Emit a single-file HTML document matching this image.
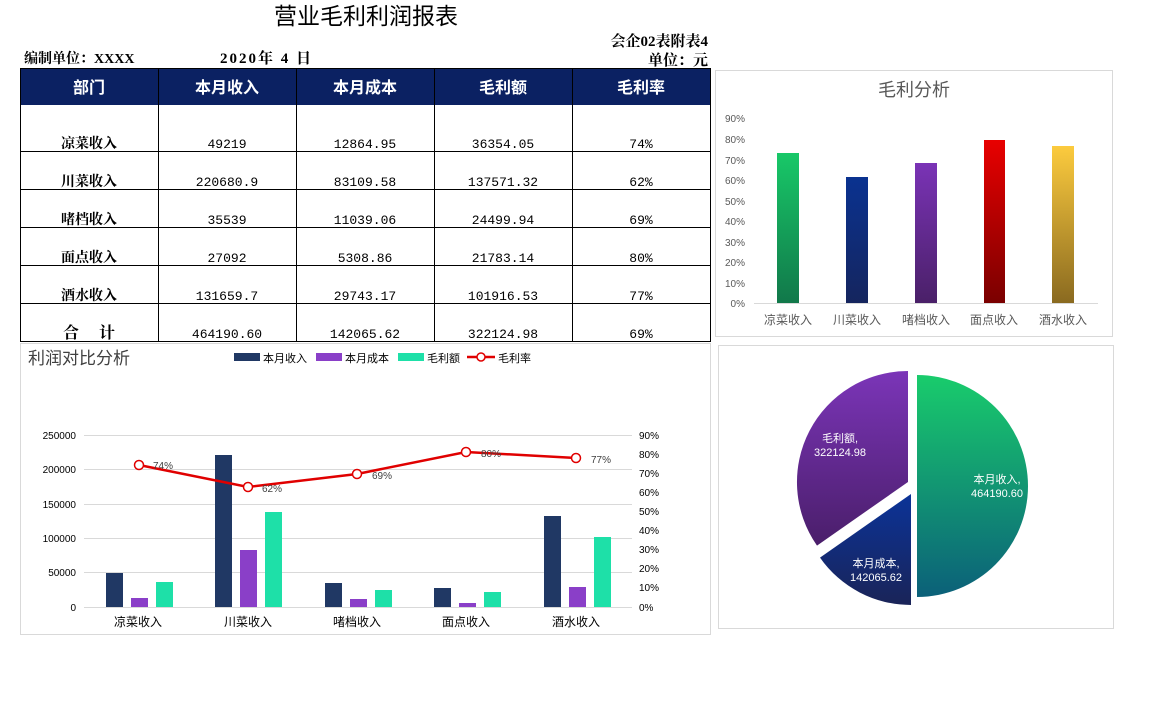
<!DOCTYPE html>
<html><head><meta charset="utf-8">
<style>
html,body{margin:0;padding:0;background:#fff;}
svg{display:block;}
.cn{font-family:"Liberation Sans","Noto Sans CJK SC",sans-serif;}
.sr{font-family:"Liberation Serif","Noto Serif CJK SC",serif;font-weight:bold;}
.mn{font-family:"Liberation Mono","Noto Sans CJK SC",monospace;}
</style></head><body>
<svg width="1149" height="728" viewBox="0 0 1149 728" xmlns="http://www.w3.org/2000/svg">
<defs>
<linearGradient id="gG" x1="0" y1="0" x2="0" y2="1"><stop offset="0" stop-color="#18c868"/><stop offset="1" stop-color="#11784a"/></linearGradient>
<linearGradient id="gB" x1="0" y1="0" x2="0" y2="1"><stop offset="0" stop-color="#0a3290"/><stop offset="1" stop-color="#15255e"/></linearGradient>
<linearGradient id="gP" x1="0" y1="0" x2="0" y2="1"><stop offset="0" stop-color="#7a33b6"/><stop offset="1" stop-color="#4a2068"/></linearGradient>
<linearGradient id="gR" x1="0" y1="0" x2="0" y2="1"><stop offset="0" stop-color="#e80000"/><stop offset="1" stop-color="#7a0000"/></linearGradient>
<linearGradient id="gY" x1="0" y1="0" x2="0" y2="1"><stop offset="0" stop-color="#fccb3e"/><stop offset="1" stop-color="#8a6a20"/></linearGradient>
<linearGradient id="pI" x1="0" y1="0" x2="0" y2="1"><stop offset="0" stop-color="#19cc6c"/><stop offset="1" stop-color="#0b6079"/></linearGradient>
<linearGradient id="pP" x1="0" y1="0" x2="0" y2="1"><stop offset="0" stop-color="#7b35b8"/><stop offset="1" stop-color="#4a1e6a"/></linearGradient>
<linearGradient id="pN" x1="0" y1="0" x2="0" y2="1"><stop offset="0" stop-color="#0b3398"/><stop offset="1" stop-color="#1a2458"/></linearGradient>
</defs>

<text x="366" y="24" font-size="23" text-anchor="middle" class="cn" fill="#000">营业毛利利润报表</text>
<text x="24" y="63" font-size="14" class="sr">编制单位：XXXX</text>
<text x="220" y="63" font-size="15" class="sr" letter-spacing="2">2020年 4 日</text>
<text x="708" y="46" font-size="15" class="sr" text-anchor="end">会企02表附表4</text>
<text x="708" y="65" font-size="15" class="sr" text-anchor="end">单位：元</text>

<rect x="20" y="68" width="690" height="37" fill="#0b2162"/>
<g class="cn" font-size="16" fill="#fff" text-anchor="middle" font-weight="bold">
<text x="89" y="93">部门</text><text x="227" y="93">本月收入</text><text x="365" y="93">本月成本</text><text x="503" y="93">毛利额</text><text x="641" y="93">毛利率</text>
</g>
<g stroke="#000" stroke-width="1" fill="none">
<rect x="20.5" y="68.5" width="690" height="273"/>
<line x1="158.5" y1="68" x2="158.5" y2="342"/><line x1="296.5" y1="68" x2="296.5" y2="342"/><line x1="434.5" y1="68" x2="434.5" y2="342"/><line x1="572.5" y1="68" x2="572.5" y2="342"/>
<line x1="20" y1="151.5" x2="711" y2="151.5"/><line x1="20" y1="189.5" x2="711" y2="189.5"/><line x1="20" y1="227.5" x2="711" y2="227.5"/><line x1="20" y1="265.5" x2="711" y2="265.5"/><line x1="20" y1="303.5" x2="711" y2="303.5"/>
</g>
<g font-size="14" class="sr" text-anchor="middle">
<text x="89" y="148">凉菜收入</text><text x="89" y="186">川菜收入</text><text x="89" y="224">啫档收入</text><text x="89" y="262">面点收入</text><text x="89" y="300">酒水收入</text><text x="89" y="338" font-size="16">合　 计</text>
</g>
<g font-size="13" class="mn" text-anchor="middle">
<text x="227" y="148">49219</text><text x="365" y="148">12864.95</text><text x="503" y="148">36354.05</text><text x="641" y="148">74%</text>
<text x="227" y="186">220680.9</text><text x="365" y="186">83109.58</text><text x="503" y="186">137571.32</text><text x="641" y="186">62%</text>
<text x="227" y="224">35539</text><text x="365" y="224">11039.06</text><text x="503" y="224">24499.94</text><text x="641" y="224">69%</text>
<text x="227" y="262">27092</text><text x="365" y="262">5308.86</text><text x="503" y="262">21783.14</text><text x="641" y="262">80%</text>
<text x="227" y="300">131659.7</text><text x="365" y="300">29743.17</text><text x="503" y="300">101916.53</text><text x="641" y="300">77%</text>
<text x="227" y="338">464190.60</text><text x="365" y="338">142065.62</text><text x="503" y="338">322124.98</text><text x="641" y="338">69%</text>
</g>

<rect x="715.5" y="70.5" width="397" height="266" fill="#fff" stroke="#d9d9d9"/>
<text x="914" y="96" font-size="18" class="cn" fill="#595959" text-anchor="middle">毛利分析</text>
<g class="cn" font-size="10" fill="#595959" text-anchor="end">
<text x="745" y="307">0%</text><text x="745" y="287">10%</text><text x="745" y="266">20%</text><text x="745" y="246">30%</text><text x="745" y="225">40%</text><text x="745" y="205">50%</text><text x="745" y="184">60%</text><text x="745" y="164">70%</text><text x="745" y="143">80%</text><text x="745" y="122">90%</text>
</g>
<line x1="754" y1="303.5" x2="1098" y2="303.5" stroke="#d9d9d9"/>
<rect x="777" y="153" width="22" height="150" fill="url(#gG)"/>
<rect x="846" y="177" width="22" height="126" fill="url(#gB)"/>
<rect x="915" y="163" width="22" height="140" fill="url(#gP)"/>
<rect x="984" y="140" width="21" height="163" fill="url(#gR)"/>
<rect x="1052" y="146" width="22" height="157" fill="url(#gY)"/>
<g class="cn" font-size="12" fill="#595959" text-anchor="middle">
<text x="788" y="324">凉菜收入</text><text x="857" y="324">川菜收入</text><text x="926" y="324">啫档收入</text><text x="994" y="324">面点收入</text><text x="1063" y="324">酒水收入</text>
</g>

<rect x="20.5" y="343.5" width="690" height="291" fill="#fff" stroke="#d9d9d9"/>
<text x="28" y="364" font-size="17" class="cn" fill="#404040">利润对比分析</text>
<g class="cn" font-size="11" fill="#000">
<rect x="234" y="353" width="26" height="8" fill="#203864"/><text x="263" y="362">本月收入</text>
<rect x="316" y="353" width="26" height="8" fill="#8a3fc8"/><text x="345" y="362">本月成本</text>
<rect x="398" y="353" width="26" height="8" fill="#1ee0a8"/><text x="427" y="362">毛利额</text>
<line x1="467" y1="357" x2="495" y2="357" stroke="#e00000" stroke-width="2.5"/><circle cx="481" cy="357" r="4" fill="#fff" stroke="#e00000" stroke-width="1.5"/><text x="498" y="362">毛利率</text>
</g>
<g stroke="#d9d9d9" stroke-width="1">
<line x1="84" y1="435.5" x2="632" y2="435.5"/><line x1="84" y1="469.5" x2="632" y2="469.5"/><line x1="84" y1="504.5" x2="632" y2="504.5"/><line x1="84" y1="538.5" x2="632" y2="538.5"/><line x1="84" y1="572.5" x2="632" y2="572.5"/><line x1="84" y1="607.5" x2="632" y2="607.5"/>
</g>
<g class="cn" font-size="10" fill="#000" text-anchor="end">
<text x="76" y="439">250000</text><text x="76" y="473">200000</text><text x="76" y="508">150000</text><text x="76" y="542">100000</text><text x="76" y="576">50000</text><text x="76" y="611">0</text>
</g>
<g class="cn" font-size="10" fill="#000">
<text x="639" y="439">90%</text><text x="639" y="458">80%</text><text x="639" y="477">70%</text><text x="639" y="496">60%</text><text x="639" y="515">50%</text><text x="639" y="534">40%</text><text x="639" y="553">30%</text><text x="639" y="572">20%</text><text x="639" y="591">10%</text><text x="639" y="611">0%</text>
</g>
<g>
<rect x="106" y="573" width="17" height="34" fill="#203864"/><rect x="131" y="598" width="17" height="9" fill="#8a3fc8"/><rect x="156" y="582" width="17" height="25" fill="#1ee0a8"/>
<rect x="215" y="455" width="17" height="152" fill="#203864"/><rect x="240" y="550" width="17" height="57" fill="#8a3fc8"/><rect x="265" y="512" width="17" height="95" fill="#1ee0a8"/>
<rect x="325" y="583" width="17" height="24" fill="#203864"/><rect x="350" y="599" width="17" height="8" fill="#8a3fc8"/><rect x="375" y="590" width="17" height="17" fill="#1ee0a8"/>
<rect x="434" y="588" width="17" height="19" fill="#203864"/><rect x="459" y="603" width="17" height="4" fill="#8a3fc8"/><rect x="484" y="592" width="17" height="15" fill="#1ee0a8"/>
<rect x="544" y="516" width="17" height="91" fill="#203864"/><rect x="569" y="587" width="17" height="20" fill="#8a3fc8"/><rect x="594" y="537" width="17" height="70" fill="#1ee0a8"/>
</g>
<polyline points="139,465 248,487 357,474 466,452 576,458" fill="none" stroke="#e00000" stroke-width="2.5"/>
<g fill="#fff" stroke="#e00000" stroke-width="1.5">
<circle cx="139" cy="465" r="4.5"/><circle cx="248" cy="487" r="4.5"/><circle cx="357" cy="474" r="4.5"/><circle cx="466" cy="452" r="4.5"/><circle cx="576" cy="458" r="4.5"/>
</g>
<g class="cn" font-size="10" fill="#404040">
<text x="153" y="469">74%</text><text x="262" y="492">62%</text><text x="372" y="479">69%</text><text x="481" y="457">80%</text><text x="591" y="463">77%</text>
</g>
<g class="cn" font-size="12" fill="#000" text-anchor="middle">
<text x="138" y="626">凉菜收入</text><text x="248" y="626">川菜收入</text><text x="357" y="626">啫档收入</text><text x="466" y="626">面点收入</text><text x="576" y="626">酒水收入</text>
</g>

<rect x="718.5" y="345.5" width="395" height="283" fill="#fff" stroke="#d9d9d9"/>
<path d="M917,486 L917,375 A111,111 0 0 1 917,597 Z" fill="url(#pI)"/>
<path d="M908,482 L817,545.6 A111,111 0 0 1 908,371 Z" fill="url(#pP)"/>
<path d="M911,494 L911,605 A111,111 0 0 1 820,557.6 Z" fill="url(#pN)"/>
<g class="cn" font-size="11" fill="#fff" text-anchor="middle">
<text x="840" y="442">毛利额,</text><text x="840" y="456">322124.98</text>
<text x="997" y="483">本月收入,</text><text x="997" y="497">464190.60</text>
<text x="876" y="567">本月成本,</text><text x="876" y="581">142065.62</text>
</g>
</svg>
</body></html>
